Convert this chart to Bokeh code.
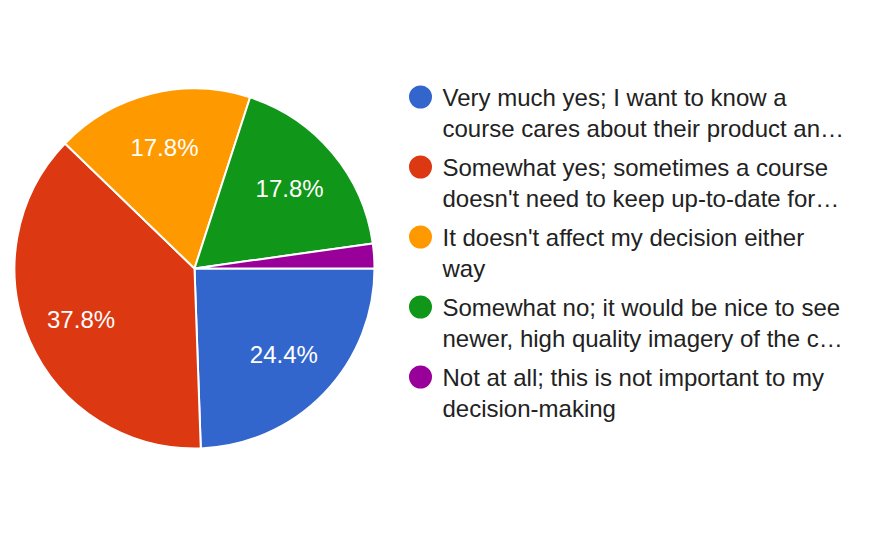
import math
from bokeh.plotting import figure
from bokeh.models import Range1d, ColumnDataSource
from bokeh.core.properties import value
from bokeh.embed import file_html
from bokeh.resources import INLINE

# ---- data ----
categories = [
    "Very much yes; I want to know a course cares about their product and...",
    "Somewhat yes; sometimes a course doesn't need to keep up-to-date for...",
    "It doesn't affect my decision either way",
    "Somewhat no; it would be nice to see newer, high quality imagery of the c...",
    "Not at all; this is not important to my decision-making",
]
legend_lines = [
    ["Very much yes; I want to know a", "course cares about their product an\u2026"],
    ["Somewhat yes; sometimes a course", "doesn't need to keep up-to-date for\u2026"],
    ["It doesn't affect my decision either", "way"],
    ["Somewhat no; it would be nice to see", "newer, high quality imagery of the c\u2026"],
    ["Not at all; this is not important to my", "decision-making"],
]
counts = [11, 17, 8, 8, 1]
colors = ["#3366cc", "#dc3912", "#ff9900", "#109618", "#990099"]

W, H = 871, 533
FONT = "Liberation Sans"

p = figure(width=W, height=H, output_backend="svg", toolbar_location=None,
           x_range=Range1d(0, W), y_range=Range1d(0, H), min_border=0)
p.axis.visible = False
p.grid.visible = False
p.outline_line_color = None
p.background_fill_color = "white"
p.border_fill_color = "white"

def Y(y):
    return H - y

cx, cy, R = 194, 268, 180
total = sum(counts)
fracs = [c / total for c in counts]
starts, ends, lx, ly, labels = [], [], [], [], []
acc = 0.0
for f in fracs:
    a0 = -acc * 2 * math.pi
    a1 = -(acc + f) * 2 * math.pi
    starts.append(a0)
    ends.append(a1)
    mid = (a0 + a1) / 2
    lr = 0.69 * R
    lx.append(cx + lr * math.cos(mid))
    ly.append(Y(cy) + lr * math.sin(mid))
    labels.append(f"{f*100:.1f}%" if f > 0.05 else "")
    acc += f

src = ColumnDataSource(dict(start=starts, end=ends, color=colors))
p.wedge(x=cx, y=Y(cy), radius=R, start_angle="start", end_angle="end",
        direction="clock", fill_color="color", line_color="white", line_width=2,
        source=src)

p.text(x=lx, y=ly, text=labels, text_color="white", text_font=value(FONT),
       text_font_size="24px", text_align="center", text_baseline="middle")

# legend
lx0, ly0, step, pitch = 420, 96.5, 70, 31
for i, lines in enumerate(legend_lines):
    yc = ly0 + i * step
    p.scatter(x=[lx0], y=[Y(yc)], size=23, marker="circle",
              fill_color=colors[i], line_color=None)
    for j, t in enumerate(lines):
        p.text(x=[442], y=[Y(yc + j * pitch)], text=[t], text_color="#222222",
               text_font=value(FONT), text_font_size="24px",
               text_align="left", text_baseline="middle")

open("out.html", "w").write(file_html(p, INLINE))
